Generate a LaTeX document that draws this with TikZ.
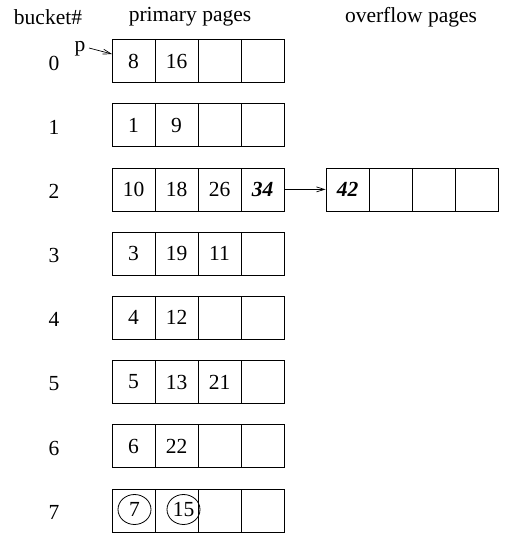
\documentclass[tikz,border=0pt]{standalone}
\usepackage{fontspec}
\setmainfont{Liberation Serif}
\usetikzlibrary{arrows.meta,shapes.geometric}
\newcommand{\bucketrow}[5]{%
  \node[cell] (r#1c1) at (133.5,61+64.2*#1) {#2};
  \node[cell] (r#1c2) at (176.5,61+64.2*#1) {#3};
  \node[cell] (r#1c3) at (219.5,61+64.2*#1) {#4};
  \node[cell] (r#1c4) at (262.5,61+64.2*#1) {#5};
  \node[lbl] (n#1) at (54,63+64.2*#1) {#1};
}
\begin{document}
\begin{tikzpicture}[x=1pt,y=-1pt,
  cell/.style={draw, line width=0.8pt, minimum width=43pt, minimum height=43pt, inner sep=0pt, font=\fontsize{21.5}{25}\selectfont},
  lbl/.style={font=\fontsize{21.5}{25}\selectfont, inner sep=0pt},
  circ/.style={draw, ellipse, line width=0.8pt, minimum width=33pt, minimum height=30pt, inner sep=0pt, font=\fontsize{21.5}{25}\selectfont},
  ptr/.style={-{Straight Barb[length=8pt,width=5pt]}, line width=0.7pt}]
\useasboundingbox (0,0) rectangle (524,542);
\node[lbl] (hb) at (48,17) {bucket\#};
\node[lbl] (hp) at (190,17) {primary pages};
\node[lbl] (ho) at (411,17) {overflow pages};
\bucketrow{0}{8}{16}{}{}
\bucketrow{1}{1}{9}{}{}
\bucketrow{2}{10}{18}{26}{\textbf{\textit{34}}}
\bucketrow{3}{3}{19}{11}{}
\bucketrow{4}{4}{12}{}{}
\bucketrow{5}{5}{13}{21}{}
\bucketrow{6}{6}{22}{}{}
\bucketrow{7}{}{}{}{}
\node[circ] (c7) at (134.5,509.5) {7};
\node[circ] (c15) at (183.5,509.5) {15};
% overflow page
\node[cell] (o1) at (347.5,189.4) {\textbf{\textit{42}}};
\node[cell] (o2) at (390.5,189.4) {};
\node[cell] (o3) at (433.5,189.4) {};
\node[cell] (o4) at (476.5,189.4) {};
\draw[ptr] (r2c4.east) -- (o1.west);
% pointer p
\node[lbl] (p) at (80,49) {p};
\coordinate (ptip) at (112,54);
\draw[ptr] (89,48) -- (ptip);
\end{tikzpicture}
\end{document}
